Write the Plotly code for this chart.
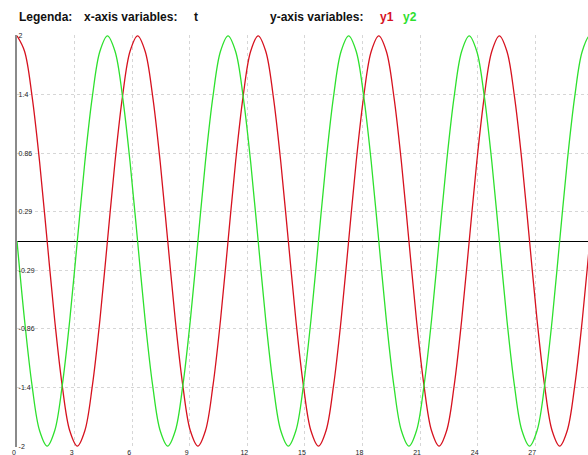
import plotly.graph_objects as go

# Sample points of the two signals, 16 samples per period (step ~0.393)
t = [0.0, 0.393, 0.785, 1.178, 1.571, 1.963, 2.356, 2.749,
     3.142, 3.534, 3.927, 4.320, 4.712, 5.105, 5.498, 5.890,
     6.283, 6.676, 7.069, 7.461, 7.854, 8.247, 8.639, 9.032,
     9.425, 9.817, 10.210, 10.603, 10.996, 11.388, 11.781, 12.174,
     12.566, 12.959, 13.352, 13.744, 14.137, 14.530, 14.923, 15.315,
     15.708, 16.101, 16.493, 16.886, 17.279, 17.671, 18.064, 18.457,
     18.850, 19.242, 19.635, 20.028, 20.420, 20.813, 21.206, 21.598,
     21.991, 22.384, 22.777, 23.169, 23.562, 23.955, 24.347, 24.740,
     25.133, 25.525, 25.918, 26.311, 26.704, 27.096, 27.489, 27.882,
     28.274, 28.667, 29.060, 29.452, 29.845, 30.238]

y1 = [2.0, 1.85, 1.41, 0.77, 0.0, -0.77, -1.41, -1.85,
      -2.0, -1.85, -1.41, -0.77, 0.0, 0.77, 1.41, 1.85,
      2.0, 1.85, 1.41, 0.77, 0.0, -0.77, -1.41, -1.85,
      -2.0, -1.85, -1.41, -0.77, 0.0, 0.77, 1.41, 1.85,
      2.0, 1.85, 1.41, 0.77, 0.0, -0.77, -1.41, -1.85,
      -2.0, -1.85, -1.41, -0.77, 0.0, 0.77, 1.41, 1.85,
      2.0, 1.85, 1.41, 0.77, 0.0, -0.77, -1.41, -1.85,
      -2.0, -1.85, -1.41, -0.77, 0.0, 0.77, 1.41, 1.85,
      2.0, 1.85, 1.41, 0.77, 0.0, -0.77, -1.41, -1.85,
      -2.0, -1.85, -1.41, -0.77, 0.0, 0.77]

y2 = [0.0, -0.77, -1.41, -1.85, -2.0, -1.85, -1.41, -0.77,
      0.0, 0.77, 1.41, 1.85, 2.0, 1.85, 1.41, 0.77,
      0.0, -0.77, -1.41, -1.85, -2.0, -1.85, -1.41, -0.77,
      0.0, 0.77, 1.41, 1.85, 2.0, 1.85, 1.41, 0.77,
      0.0, -0.77, -1.41, -1.85, -2.0, -1.85, -1.41, -0.77,
      0.0, 0.77, 1.41, 1.85, 2.0, 1.85, 1.41, 0.77,
      0.0, -0.77, -1.41, -1.85, -2.0, -1.85, -1.41, -0.77,
      0.0, 0.77, 1.41, 1.85, 2.0, 1.85, 1.41, 0.77,
      0.0, -0.77, -1.41, -1.85, -2.0, -1.85, -1.41, -0.77,
      0.0, 0.77, 1.41, 1.85, 2.0, 1.85]

x_ticks = [0, 3, 6, 9, 12, 15, 18, 21, 24, 27]
y_ticks = [-2, -1.43, -0.857, -0.286, 0.286, 0.857, 1.43, 2]
y_tick_text = ["-2", "-1.4", "-0.86", "-0.29", "0.29", "0.86", "1.4", "2"]

RED = "#d6121f"
GREEN = "#2ee02e"
GRID = "#d6d6d6"

fig = go.Figure()
fig.add_trace(go.Scatter(x=t, y=y1, mode="lines", name="y1",
                         line=dict(color=RED, width=1.3, shape="spline")))
fig.add_trace(go.Scatter(x=t, y=y2, mode="lines", name="y2",
                         line=dict(color=GREEN, width=1.3, shape="spline")))

title_font = dict(family="Liberation Sans, Arial, sans-serif", size=12, color="#111111")
header = [
    ("Legenda:", 17, "#111111"),
    ("x-axis variables:", 82, "#111111"),
    ("t", 192, "#111111"),
    ("y-axis variables:", 268, "#111111"),
    ("y1", 378, RED),
    ("y2", 401, GREEN),
]
plot_left, plot_w = 17, 571
for text, px, color in header:
    fig.add_annotation(
        text="<b>%s</b>" % text, xref="paper", yref="paper",
        x=(px - plot_left) / plot_w, y=1.0, yshift=18,
        xanchor="left", yanchor="middle", showarrow=False,
        font=dict(title_font, color=color),
    )

tick_font = dict(family="Liberation Sans, Arial, sans-serif", size=7, color="#222222")

fig.update_layout(
    width=588, height=455,
    margin=dict(l=plot_left, r=0, t=35, b=8),
    paper_bgcolor="white", plot_bgcolor="white",
    showlegend=False,
    xaxis=dict(
        range=[0, 29.75], tickvals=x_ticks, ticktext=[str(v) for v in x_ticks],
        showgrid=True, gridcolor=GRID, griddash="3px,3px", gridwidth=1,
        zeroline=False, showline=False, ticks="",
        tickfont=tick_font, ticklabelstandoff=0, ticklabelshift=-3,
        ticklabeloverflow="allow",
    ),
    yaxis=dict(
        range=[-2.008, 2.008], tickvals=y_ticks, ticktext=y_tick_text,
        showgrid=True, gridcolor=GRID, griddash="3px,3px", gridwidth=1,
        zeroline=True, zerolinecolor="black", zerolinewidth=1,
        showline=True, linecolor="#8a8a8a", linewidth=2,
        ticks="", ticklabelposition="inside", ticklabeloverflow="allow",
        tickfont=tick_font,
    ),
)

fig.write_html("out.html")
